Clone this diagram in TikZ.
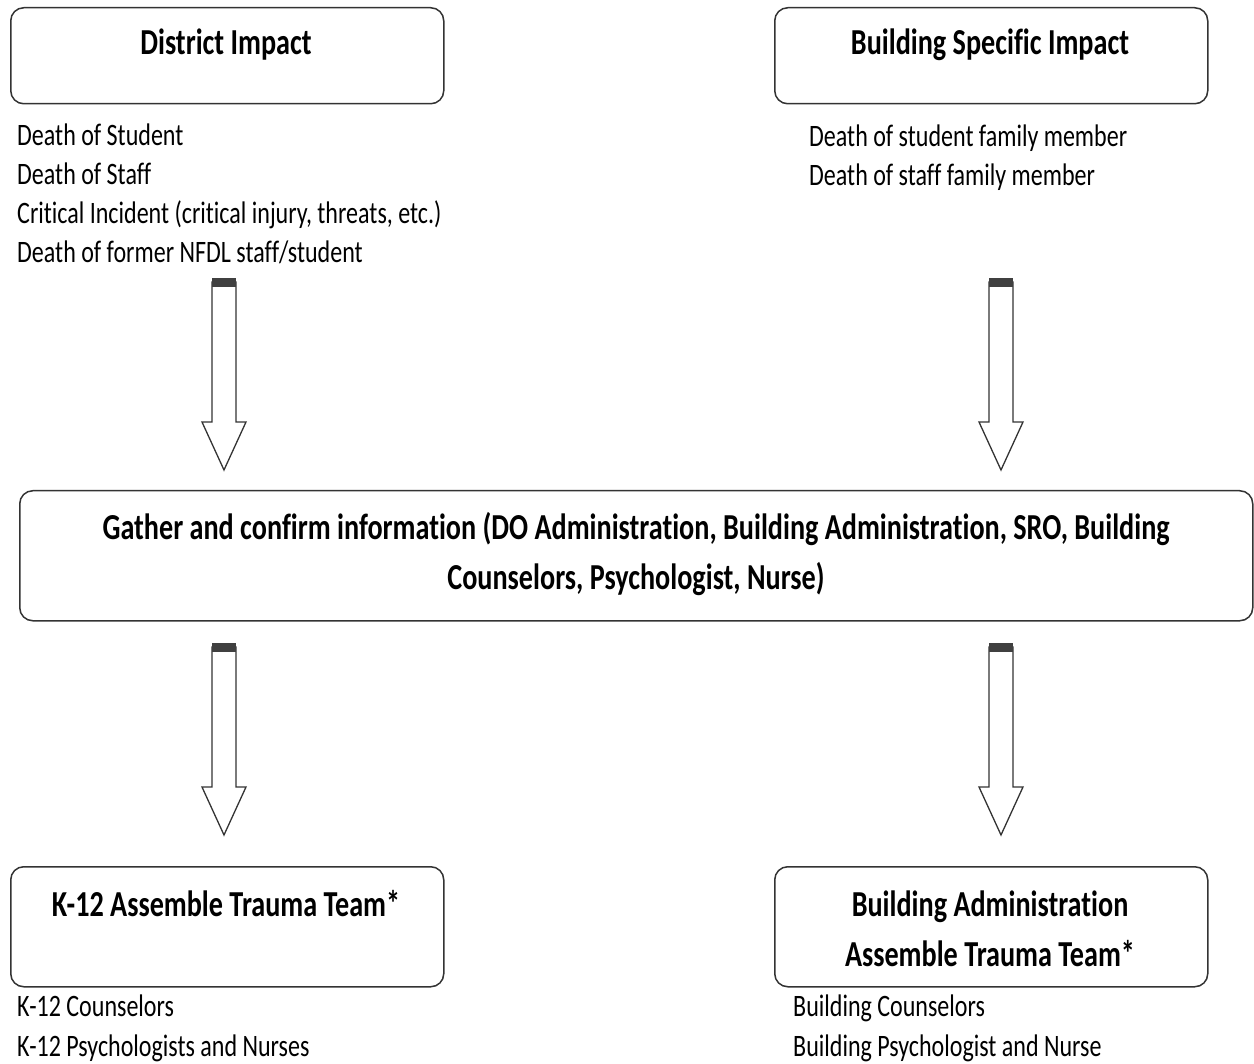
\documentclass[tikz,border=0pt]{standalone}
\usepackage{fontspec}
\setmainfont{Carlito}[FakeStretch=0.77, Ligatures=NoCommon]
\usetikzlibrary{positioning}

\tikzset{
  box/.style={draw=black!80, line width=1.5pt, rounded corners=13pt, anchor=north west, inner sep=0pt},
  title/.style={font=\bfseries\fontsize{36.6}{50}\selectfont, align=center, anchor=base, inner sep=0pt},
  item/.style={font=\fontsize{31.2}{39.3}\selectfont, align=left, anchor=base west, inner sep=0pt},
  arrowline/.style={draw=black!80, line width=1.3pt, fill=white}
}

% hollow block arrow: #1 = x of its axis, #2 = y of its top
\newcommand{\blockarrow}[2]{%
  \draw[arrowline] (#1-12,#2+4) -- (#1+12,#2+4) -- (#1+12,#2+144) -- (#1+22,#2+144)
    -- (#1,#2+192) -- (#1-22,#2+144) -- (#1-12,#2+144) -- cycle;
  \fill[black!75] (#1-12,#2) rectangle (#1+12,#2+9);
}

\begin{document}
\begin{tikzpicture}[x=1pt, y=-1pt]
  \useasboundingbox (0,0) rectangle (1254,1064);

  % top boxes (multi-line nodes sit on the baseline of their last line)
  \node[box, minimum width=433pt, minimum height=96pt] (district) at (10,7) {};
  \node[box, minimum width=433pt, minimum height=96pt] (building) at (774,7) {};
  \node[title] (districttitle) at (226,55) {District Impact};
  \node[title] (buildingtitle) at (990,55) {Building Specific Impact};

  \node[item] (districtlist) at (17,263) {Death of Student\\Death of Staff\\Critical Incident (critical injury, threats, etc.)\\Death of former NFDL staff/student};
  \node[item] (buildinglist) at (809,186) {Death of student family member\\Death of staff family member};

  \blockarrow{224}{278}
  \blockarrow{1001}{278}

  % gather box
  \node[box, minimum width=1233pt, minimum height=130pt] (gather) at (19,490) {};
  \node[title] (gathertitle) at (636,589) {Gather and confirm information (DO Administration, Building Administration, SRO, Building\\Counselors, Psychologist, Nurse)};

  \blockarrow{224}{643}
  \blockarrow{1001}{643}

  % bottom boxes
  \node[box, minimum width=433pt, minimum height=120pt] (kteam) at (10,866) {};
  \node[box, minimum width=433pt, minimum height=120pt] (bteam) at (774,866) {};
  \node[title] (kteamtitle) at (226,916) {K-12 Assemble Trauma Team*};
  \node[title] (bteamtitle) at (990,966) {Building Administration\\Assemble Trauma Team*};

  \node[item] (klist) at (17,1056) {K-12 Counselors\\K-12 Psychologists and Nurses};
  \node[item] (blist) at (793,1056) {Building Counselors\\Building Psychologist and Nurse};
\end{tikzpicture}
\end{document}
